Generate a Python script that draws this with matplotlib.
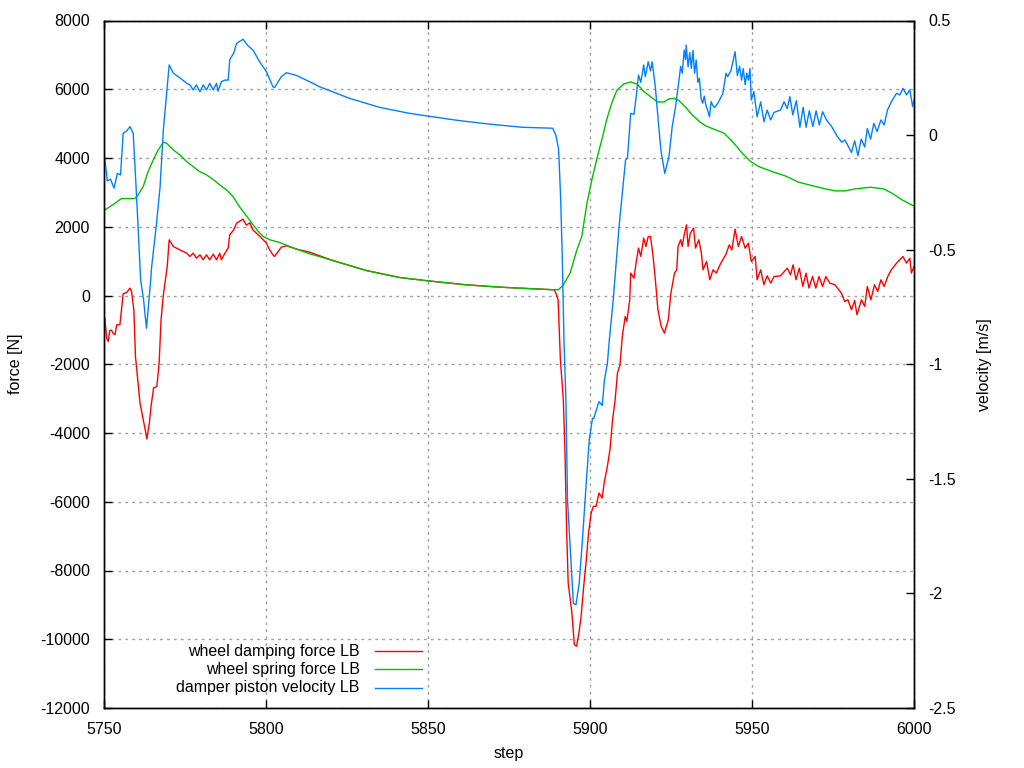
import numpy as np
import matplotlib
matplotlib.use('Agg')
import matplotlib.pyplot as plt
from matplotlib.ticker import FormatStrFormatter

plt.rcParams['font.family'] = ['Liberation Sans', 'DejaVu Sans']
plt.rcParams['axes.unicode_minus'] = False

# wheel damping force LB [N]
damp_step = [5750.0, 5750.4, 5750.9, 5751.4, 5751.9, 5752.4, 5752.9, 5753.5, 5754.0, 5755.0, 5755.5,
             5756.0, 5757.1, 5758.1, 5758.6, 5759.3, 5759.8, 5760.7, 5761.2, 5762.0, 5762.8,
             5763.3, 5764.1, 5764.6, 5765.4, 5766.4, 5767.1, 5767.7, 5768.4, 5769.6, 5770.2,
             5771.5, 5773.5, 5775.6, 5776.6, 5777.6, 5778.6, 5779.7, 5780.7, 5781.7, 5782.7,
             5783.8, 5784.8, 5785.8, 5786.3, 5787.4, 5788.4, 5788.9, 5790.1, 5791.0, 5793.0,
             5794.0, 5795.1, 5796.0, 5798.2, 5800.2, 5801.2, 5802.2, 5802.7, 5804.8, 5806.4,
             5809.5, 5813.5, 5820.7, 5831.0, 5841.3, 5850.0, 5861.8, 5872.0, 5882.3, 5889.0,
             5889.5, 5890.2, 5890.9, 5891.8, 5892.3, 5892.8, 5893.3, 5894.4, 5895.2, 5895.9,
             5896.7, 5897.3, 5898.1, 5898.8, 5899.6, 5900.4, 5901.1, 5901.9, 5902.8, 5903.8,
             5904.4, 5905.4, 5906.2, 5907.0, 5907.8, 5908.5, 5909.3, 5910.0, 5910.9, 5911.4,
             5912.3, 5912.6, 5913.6, 5914.4, 5915.0, 5915.7, 5916.6, 5917.3, 5918.0, 5918.7,
             5919.5, 5920.2, 5921.0, 5922.0, 5923.0, 5924.2, 5925.0, 5926.1, 5926.8, 5927.2,
             5928.0, 5928.5, 5929.0, 5929.8, 5930.3, 5931.0, 5932.0, 5932.6, 5933.6, 5934.4,
             5934.9, 5936.0, 5937.0, 5938.0, 5939.0, 5940.4, 5941.9, 5943.0, 5943.8, 5944.8,
             5945.8, 5946.8, 5947.9, 5948.9, 5949.8, 5951.0, 5951.6, 5952.7, 5953.7, 5954.7,
             5955.8, 5956.8, 5958.8, 5960.9, 5961.9, 5962.7, 5963.6, 5964.6, 5965.7, 5966.7,
             5967.6, 5968.7, 5969.7, 5970.7, 5971.8, 5972.8, 5974.0, 5975.6, 5977.6, 5978.6,
             5979.6, 5980.7, 5981.7, 5982.4, 5983.8, 5984.8, 5985.6, 5986.7, 5987.8, 5988.8,
             5989.8, 5990.8, 5991.9, 5993.0, 5994.6, 5995.6, 5996.6, 5997.7, 5998.7, 5999.2,
             6000.0]
damp_force = [-500, -706, -1239, -1337, -1011, -1011, -1100, -1143, -852, -852, -416,
              50, 87, 215, 120, -416, -1773, -2646, -3128, -3518, -3904,
              -4175, -3710, -3227, -2692, -2646, -1965, -706, 20, 842, 1619,
              1424, 1327, 1230, 1135, 1231, 1086, 1183, 1038, 1183, 1038,
              1202, 1038, 1231, 1038, 1231, 1378, 1765, 1910, 2105, 2221,
              2047, 2114, 1910, 1716, 1523, 1330, 1183, 1135, 1407, 1446,
              1349, 1262, 1017, 727, 523, 427, 311, 244, 195, 166,
              70, -125, -1870, -3032, -4486, -6715, -8361, -9186, -10154, -10203,
              -9770, -9330, -8459, -7780, -6908, -6326, -6133, -6133, -5745, -5890,
              -5455, -4970, -4486, -3614, -3032, -2256, -2015, -1192, -611, -756,
              -125, 651, 505, 1038, 1378, 1135, 1668, 1426, 1715, 1715,
              1135, 457, -416, -901, -1094, -707, 70, 651, 748, 1425,
              1620, 1426, 1715, 2055, 1426, 1814, 1958, 1378, 1620, 1232,
              748, 990, 457, 748, 651, 942, 1183, 1473, 1328, 1930,
              1424, 1716, 1376, 1522, 990, 1134, 457, 747, 311, 573,
              360, 552, 572, 795, 602, 892, 457, 795, 263, 651,
              215, 554, 214, 554, 263, 552, 360, 311, 70, -174,
              -125, -416, -144, -561, -125, -320, 263, -125, 311, 117,
              457, 263, 552, 746, 940, 1038, 1134, 940, 1086, 651,
              843]

# wheel spring force LB [N]
spring_step = [5750.0, 5750.4, 5753.2, 5755.5, 5759.6, 5760.6, 5762.2, 5763.7, 5765.3, 5766.8, 5768.4,
               5769.4, 5771.5, 5773.5, 5775.6, 5777.6, 5779.6, 5781.7, 5783.7, 5785.8, 5787.9,
               5789.9, 5791.5, 5793.0, 5794.6, 5796.1, 5797.7, 5799.2, 5801.3, 5804.3, 5807.4,
               5810.5, 5813.0, 5820.7, 5831.0, 5841.3, 5850.0, 5861.8, 5872.0, 5882.3, 5889.0,
               5890.3, 5891.8, 5893.9, 5896.0, 5897.5, 5899.1, 5900.6, 5902.2, 5903.8, 5905.3,
               5906.9, 5908.4, 5910.5, 5912.6, 5914.6, 5916.7, 5918.5, 5920.8, 5922.9, 5924.4,
               5926.0, 5927.5, 5929.6, 5931.6, 5934.2, 5935.8, 5938.8, 5941.4, 5943.5, 5945.5,
               5947.0, 5949.6, 5952.1, 5956.2, 5960.3, 5964.4, 5968.5, 5972.6, 5975.7, 5978.8,
               5981.9, 5986.5, 5990.6, 5993.2, 5996.3, 6000.0]
spring_force = [2450, 2491, 2665, 2820, 2820, 2926, 3168, 3605, 3944, 4234, 4459,
                4430, 4234, 4089, 3895, 3750, 3605, 3508, 3382, 3217, 3072,
                2878, 2636, 2442, 2248, 2055, 1861, 1716, 1619, 1541, 1424,
                1315, 1230, 1017, 727, 523, 427, 311, 244, 195, 166,
                166, 311, 651, 1329, 1715, 2686, 3363, 3994, 4575, 5157,
                5640, 5980, 6154, 6212, 6150, 5930, 5800, 5630, 5630, 5718,
                5737, 5670, 5470, 5250, 5030, 4933, 4817, 4720, 4526, 4313,
                4140, 3895, 3750, 3605, 3478, 3296, 3198, 3102, 3043, 3043,
                3102, 3150, 3102, 2976, 2782, 2600]

# damper piston velocity LB [m/s]
vel_step = [5750.0, 5750.4, 5751.1, 5752.1, 5753.2, 5754.2, 5755.2, 5756.0, 5757.1, 5758.1, 5759.1,
            5760.2, 5761.4, 5762.3, 5763.2, 5764.5, 5764.8, 5766.3, 5767.4, 5768.4, 5769.6,
            5770.2, 5771.5, 5773.5, 5775.6, 5776.6, 5777.6, 5778.6, 5779.7, 5780.7, 5781.7,
            5782.7, 5783.8, 5784.8, 5785.3, 5786.3, 5787.4, 5788.4, 5788.9, 5790.1, 5791.0,
            5793.0, 5794.5, 5796.1, 5798.1, 5800.2, 5802.2, 5802.7, 5804.8, 5806.4, 5809.5,
            5813.5, 5816.6, 5825.9, 5835.1, 5844.3, 5850.0, 5859.8, 5869.0, 5879.2, 5888.5,
            5889.5, 5890.3, 5890.5, 5891.0, 5891.5, 5892.0, 5892.6, 5893.1, 5894.1, 5894.9,
            5895.7, 5896.7, 5897.7, 5898.8, 5899.8, 5900.8, 5901.2, 5902.8, 5903.8, 5904.5,
            5905.4, 5906.0, 5907.2, 5909.0, 5911.0, 5911.6, 5912.6, 5913.6, 5914.4, 5915.0,
            5915.7, 5916.6, 5917.1, 5918.0, 5918.7, 5919.2, 5920.2, 5920.8, 5921.9, 5923.1,
            5924.4, 5925.4, 5926.5, 5927.5, 5928.0, 5928.5, 5929.1, 5929.5, 5929.7, 5930.3,
            5930.8, 5931.3, 5931.8, 5932.3, 5932.8, 5933.3, 5933.8, 5934.3, 5934.8, 5935.3,
            5935.8, 5936.3, 5936.9, 5937.4, 5937.9, 5938.5, 5939.5, 5941.0, 5942.0, 5942.5,
            5943.5, 5944.8, 5945.5, 5946.2, 5946.8, 5947.3, 5947.9, 5948.4, 5948.9, 5949.4,
            5949.8, 5950.6, 5951.6, 5952.7, 5953.7, 5954.7, 5955.8, 5956.8, 5958.8, 5959.9,
            5960.9, 5961.7, 5962.6, 5963.7, 5964.8, 5965.8, 5966.7, 5967.7, 5968.8, 5969.8,
            5970.8, 5971.8, 5973.0, 5974.6, 5976.2, 5977.7, 5978.7, 5980.7, 5981.7, 5982.7,
            5983.7, 5984.8, 5985.6, 5986.6, 5987.6, 5988.6, 5989.8, 5990.8, 5991.8, 5993.0,
            5994.6, 5995.6, 5996.6, 5997.7, 5998.7, 5999.6, 6000.0]
velocity = [-0.05, -0.109, -0.200, -0.193, -0.232, -0.167, -0.174, 0.008, 0.018, 0.037, 0.008,
            -0.283, -0.632, -0.719, -0.843, -0.632, -0.574, -0.385, -0.225, 0.022, 0.211,
            0.306, 0.27, 0.25, 0.226, 0.219, 0.197, 0.219, 0.189, 0.219, 0.197,
            0.226, 0.197, 0.226, 0.192, 0.233, 0.24, 0.24, 0.33, 0.357, 0.40,
            0.418, 0.39, 0.37, 0.32, 0.277, 0.211, 0.207, 0.255, 0.272, 0.26,
            0.233, 0.211, 0.16, 0.121, 0.095, 0.083, 0.063, 0.048, 0.034, 0.030,
            0.0, -0.058, -0.109, -0.284, -0.545, -0.894, -1.156, -1.592, -1.84, -2.043,
            -2.05, -1.956, -1.767, -1.534, -1.33, -1.236, -1.236, -1.163, -1.18, -1.068,
            -0.996, -0.894, -0.72, -0.40, -0.109, -0.10, 0.095, 0.09, 0.18, 0.262,
            0.23, 0.306, 0.255, 0.32, 0.28, 0.32, 0.21, 0.11, -0.065, -0.167,
            -0.094, 0.037, 0.13, 0.24, 0.30, 0.27, 0.371, 0.33, 0.393, 0.298,
            0.36, 0.291, 0.37, 0.27, 0.328, 0.23, 0.248, 0.16, 0.139, 0.17,
            0.13, 0.11, 0.08, 0.146, 0.13, 0.12, 0.14, 0.18, 0.27, 0.255,
            0.28, 0.364, 0.26, 0.30, 0.24, 0.29, 0.22, 0.27, 0.24, 0.29,
            0.153, 0.19, 0.08, 0.145, 0.058, 0.109, 0.066, 0.099, 0.109, 0.145,
            0.116, 0.168, 0.088, 0.15, 0.034, 0.121, 0.034, 0.106, 0.037, 0.106,
            0.044, 0.102, 0.066, 0.037, -0.003, -0.031, -0.021, -0.076, -0.025, -0.09,
            -0.018, -0.052, 0.029, -0.018, 0.051, 0.015, 0.066, 0.044, 0.109, 0.145,
            0.182, 0.175, 0.204, 0.175, 0.197, 0.124, 0.153]

labels = ['wheel damping force LB', 'wheel spring force LB', 'damper piston velocity LB']
colors = ['#ff0000', '#00c000', '#0080ff']
fs = 11.5

fig = plt.figure(figsize=(10.24, 7.68), dpi=100)
ax = fig.add_axes([103.7/1024, 1 - 708/768, 810.3/1024, 687.5/768])
ax2 = ax.twinx()

ax.plot(damp_step, damp_force, color=colors[0], lw=1)
ax.plot(spring_step, spring_force, color=colors[1], lw=1)
ax2.plot(vel_step, velocity, color=colors[2], lw=1)

ax.set_xlim(5750, 6000)
ax.set_ylim(-12000, 8000)
ax2.set_ylim(-2.5, 0.5)
ax.set_xticks(np.arange(5750, 6001, 50))
ax.set_yticks(np.arange(-12000, 8001, 2000))
ax2.set_yticks(np.arange(-2.5, 0.51, 0.5))
ax2.yaxis.set_major_formatter(FormatStrFormatter('%g'))

ax.grid(True, color='#a0a0a0', linestyle=(0, (2, 3)), lw=1)
ax.tick_params(axis='y', direction='in', length=6, width=1, labelsize=fs, right=False, pad=10)
ax.tick_params(axis='x', direction='in', length=6, width=1, labelsize=fs, top=True, pad=10)
ax2.tick_params(direction='in', length=6, width=1, labelsize=fs, pad=10)
for a in (ax, ax2):
    for s in a.spines.values():
        s.set_linewidth(1)

ax.set_xlabel('step', fontsize=fs)
ax.set_ylabel('force [N]', fontsize=fs)
ax2.set_ylabel('velocity [m/s]', fontsize=fs)
ax.xaxis.set_label_coords(0.5, -0.055)
ax.yaxis.set_label_coords(-0.0996, 0.5)
ax2.yaxis.set_label_coords(1.0776, 0.5)

# legend, gnuplot style: text right aligned then line sample
rows = [0.0829, 0.0567, 0.0291]
for lab, c, yy in zip(labels, colors, rows):
    ax2.text(0.316, yy, lab, transform=ax.transAxes, ha='right', va='center', fontsize=fs)
    ax2.plot([0.335, 0.393], [yy, yy], transform=ax.transAxes, color=c, lw=1)

fig.savefig('out.png', dpi=100)
